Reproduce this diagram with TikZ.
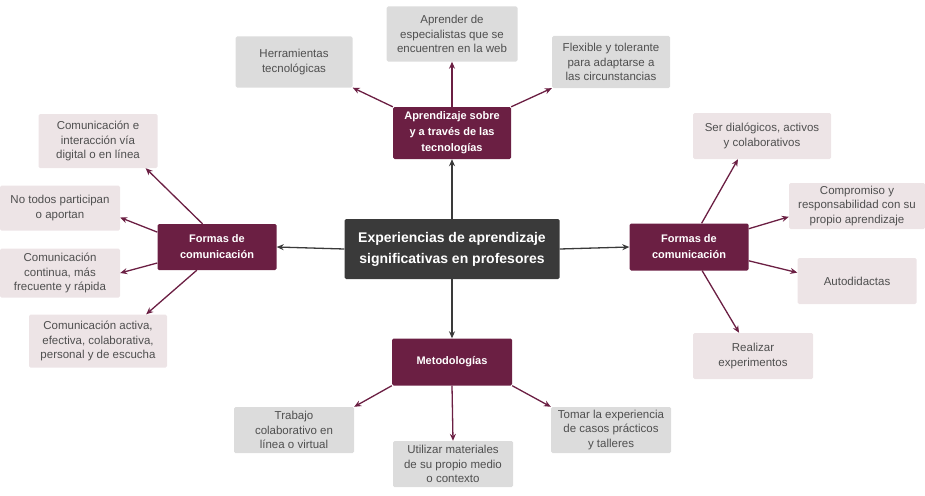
\documentclass[tikz,border=0pt]{standalone}
\usepackage{fontspec}
\setmainfont{Liberation Sans}
\usetikzlibrary{arrows.meta}
\definecolor{vino}{HTML}{6B1F43}
\definecolor{gris}{HTML}{DCDCDC}
\definecolor{rosa}{HTML}{EDE4E6}
\definecolor{oscuro}{HTML}{3A3A3A}
\definecolor{letra}{HTML}{4F4F4F}
\begin{document}
\begin{tikzpicture}[x=1pt,y=-1pt,
  hoja/.style={fill=gris,text=letra,align=center,inner sep=0pt,rounded corners=1.5pt,
    font=\fontsize{11.5}{14.5}\selectfont},
  hojar/.style={hoja,fill=rosa},
  rama/.style={fill=vino,text=white,align=center,inner sep=0pt,rounded corners=1.5pt,
    font=\bfseries\fontsize{11}{16}\selectfont},
  flecha/.style={-{Stealth[length=7pt,width=6pt]},line width=1.3pt,color=vino},
  flechac/.style={flecha,color=oscuro}]
  \useasboundingbox (0,0) rectangle (925,495);
  % centro
  \node[rama,fill=oscuro,minimum width=215pt,minimum height=60pt,
    font=\bfseries\fontsize{14}{21}\selectfont] (exp) at (452,249)
    {Experiencias de aprendizaje\\significativas en profesores};
  % ramas
  \node[rama,minimum width=118pt,minimum height=52pt] (tec) at (452,133) {Aprendizaje sobre\\y a través de las\\tecnologías};
  \node[rama,minimum width=119pt,minimum height=46pt] (ci) at (217,247) {Formas de\\comunicación};
  \node[rama,minimum width=119pt,minimum height=47pt] (cd) at (689,247) {Formas de\\comunicación};
  \node[rama,minimum width=120pt,minimum height=47pt] (met) at (452,362) {Metodologías};
  % arriba
  \node[hoja,minimum width=117pt,minimum height=51pt] (herr) at (294,62) {Herramientas\\tecnológicas};
  \node[hoja,minimum width=131pt,minimum height=55pt] (esp) at (452,34) {Aprender de\\especialistas que se\\encuentren en la web};
  \node[hoja,minimum width=118pt,minimum height=52pt] (flex) at (611,62) {Flexible y tolerante\\para adaptarse a\\las circunstancias};
  % izquierda
  \node[hojar,minimum width=119pt,minimum height=54pt] (dig) at (98,141) {Comunicación e\\interacción vía\\digital o en línea};
  \node[hojar,minimum width=120pt,minimum height=45pt] (todos) at (60,208) {No todos participan\\o aportan};
  \node[hojar,minimum width=120pt,minimum height=49pt] (cont) at (60,273) {Comunicación\\continua, más\\frecuente y rápida};
  \node[hojar,minimum width=138pt,minimum height=53pt] (act) at (98,341) {Comunicación activa,\\efectiva, colaborativa,\\personal y de escucha};
  % derecha
  \node[hojar,minimum width=138pt,minimum height=46pt] (dial) at (762,136) {Ser dialógicos, activos\\y colaborativos};
  \node[hojar,minimum width=136pt,minimum height=46pt] (comp) at (857,206) {Compromiso y\\responsabilidad con su\\propio aprendizaje};
  \node[hojar,minimum width=119pt,minimum height=46pt] (auto) at (857,281) {Autodidactas};
  \node[hojar,minimum width=120pt,minimum height=46pt] (real) at (753,356) {Realizar\\experimentos};
  % abajo
  \node[hoja,minimum width=120pt,minimum height=46pt] (trab) at (294,430) {Trabajo\\colaborativo en\\línea o virtual};
  \node[hoja,minimum width=120pt,minimum height=46pt] (util) at (453,464) {Utilizar materiales\\de su propio medio\\o contexto};
  \node[hoja,minimum width=120pt,minimum height=46pt] (tomar) at (611,430) {Tomar la experiencia\\de casos prácticos\\y talleres};
  % flechas del centro
  \draw[flechac] (exp.north) -- (tec.south);
  \draw[flechac] (exp.west) -- (ci.east);
  \draw[flechac] (exp.east) -- (cd.west);
  \draw[flechac] (exp.south) -- (met.north);
  % flechas de las ramas
  \draw[flecha] (tec.north west) -- (herr.south east);
  \draw[flecha] (tec.north) -- (esp.south);
  \draw[flecha] (tec.north east) -- (flex.south west);
  \draw[flecha] (ci.122) -- ([xshift=-12pt]dig.south east);
  \draw[flecha] (ci.166) -- (todos.-9);
  \draw[flecha] (ci.195) -- (cont.east);
  \draw[flecha] (ci.229) -- (act.29);
  \draw[flecha] (cd.62) -- (dial.224);
  \draw[flecha] (cd.17) -- (comp.189);
  \draw[flecha] (cd.-13) -- (auto.172);
  \draw[flecha] (cd.-61) -- (real.121);
  \draw[flecha] (met.south west) -- (trab.north east);
  \draw[flecha] (met.south) -- (util.north);
  \draw[flecha] (met.south east) -- (tomar.north west);
\end{tikzpicture}
\end{document}
